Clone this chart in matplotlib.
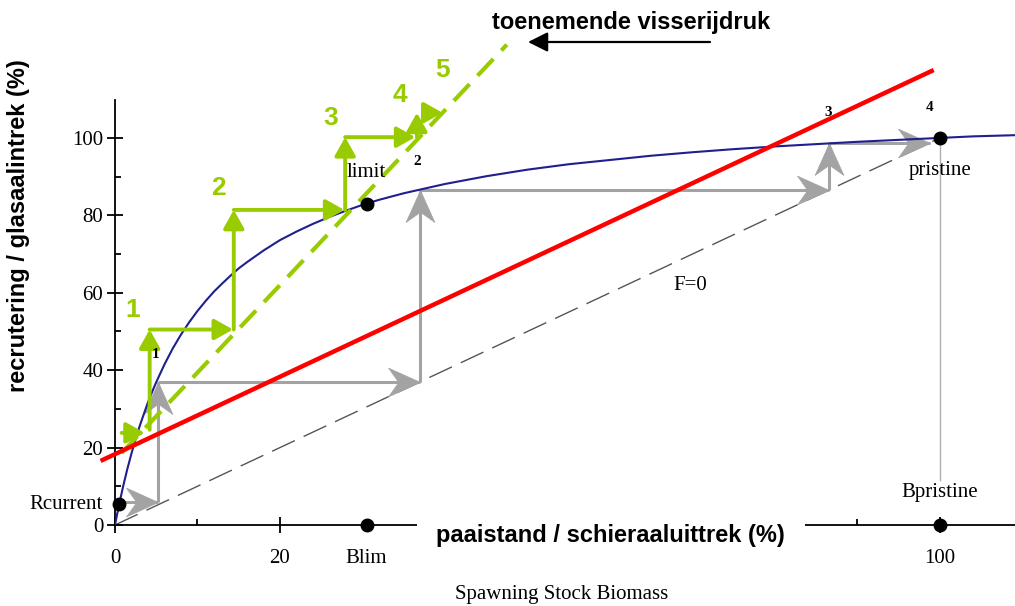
import matplotlib
matplotlib.use("Agg")
import matplotlib.pyplot as plt
from matplotlib.patches import FancyArrowPatch
from matplotlib.path import Path

# ---------------- data ----------------
curve_s = [0, 0.25, 0.5, 1, 1.5, 2, 2.5, 3, 3.5, 4, 4.5, 5, 6, 7, 8, 9, 10, 11, 12, 13, 14, 15, 16, 18,
           20, 22, 24, 26, 28, 30, 32, 35, 40, 45, 50, 55, 60, 65, 70, 75, 80, 85, 90, 95, 100, 104, 109]
curve_r = [0, 2.7, 5.3, 10.1, 14.5, 18.5, 22.2, 25.6, 28.7, 31.7, 34.4, 36.9, 41.5, 45.6, 49.2, 52.4,
           55.3, 57.9, 60.3, 62.4, 64.4, 66.3, 67.9, 70.9, 73.6, 75.8, 77.8, 79.6, 81.2, 82.7, 84.0,
           85.7, 88.1, 90.1, 91.8, 93.2, 94.3, 95.4, 96.3, 97.1, 97.8, 98.4, 99.0, 99.5, 100.0, 100.4, 100.7]

f0_s = [0, 100]
f0_r = [0, 100]

red_s = [-1.5, 99.0]
red_r = [16.8, 117.3]

green_line_s = [0.8, 47.5]
green_line_r = [18.6, 124.1]

cobweb_s = [0.5, 5.25, 5.25, 37.0, 37.0, 86.5, 86.5, 98.8]
cobweb_r = [6.0, 6.0, 37.0, 37.0, 86.6, 86.6, 98.7, 98.7]

green_s0 = [0.8, 4.2, 4.2, 14.4, 14.4, 27.9, 27.9, 36.6, 38.0]
green_r0 = [23.8, 24.6, 50.5, 50.5, 81.4, 81.4, 100.2, 100.2, 106.5]
green_s1 = [3.6, 4.2, 14.3, 14.4, 27.8, 27.9, 36.4, 36.6, 39.7]
green_r1 = [23.8, 50.5, 50.5, 81.4, 81.4, 100.2, 100.2, 106.5, 106.5]

dots_s = [0.5, 30.5, 100, 30.5, 100]
dots_r = [5.3, 83.0, 100, 0, 0]

green_labels = ["1", "2", "3", "4", "5"]
green_lab_s = [2.2, 12.5, 26.1, 34.5, 39.7]
green_lab_r = [55.6, 87.1, 105.2, 111.1, 117.6]

step_labels = ["1", "2", "3", "4"]
step_lab_s = [4.9, 36.6, 86.4, 98.8]
step_lab_r = [44.0, 93.9, 106.5, 107.8]

yticks = [0, 20, 40, 60, 80, 100]
yminor = [10, 30, 50, 70, 90]
xtick_pos = [0, 20, 30.5, 100]
xtick_lab = ["0", "20", "Blim", "100"]
xminor = [10, 90]

# ---------------- figure ----------------
SERIF = "Liberation Serif"
SANS = "Liberation Sans"
GREEN = "#99cc00"
GRAY = "#a3a3a3"

fig = plt.figure(figsize=(10.15, 6.06), dpi=100)
ax = fig.add_axes([0.1133, 0.1337, 0.8867, 0.7013])
ax.set_xlim(0, 109.1)
ax.set_ylim(0, 109.8)
for sp in ["top", "right"]:
    ax.spines[sp].set_visible(False)
ax.spines["left"].set_linewidth(1.3)
ax.spines["bottom"].set_linewidth(1.3)

ax.set_yticks(yticks)
ax.set_yticklabels([str(v) for v in yticks], family=SERIF, fontsize=15)
ax.set_yticks(yminor, minor=True)
ax.set_xticks(xtick_pos)
ax.set_xticklabels(xtick_lab, family=SERIF, fontsize=15)
ax.set_xticks(xminor, minor=True)
ax.tick_params(which="major", direction="inout", length=11, width=1.3, pad=3)
ax.tick_params(axis="x", which="major", pad=12)
ax.tick_params(which="minor", direction="in", length=4, width=1.3)
ax.xaxis.get_major_ticks()[2].tick1line.set_visible(False)

# F=0 replacement line
ax.plot(f0_s, f0_r, color="#555555", lw=1.0, dashes=(18, 7), zorder=2)

# pristine vertical
ax.plot([dots_s[2], dots_s[2]], [dots_r[2], 11.5], color="#b0b0b0", lw=1.0, zorder=2)


def notched_head(direction):
    # tip at origin, barbs swept back
    if direction == "right":
        v = [(0, 0), (-1, 0.45), (-0.68, 0), (-1, -0.45), (0, 0)]
    else:  # up
        v = [(0, 0), (0.45, -1), (0, -0.68), (-0.45, -1), (0, 0)]
    return Path(v, [Path.MOVETO, Path.LINETO, Path.LINETO, Path.LINETO, Path.CLOSEPOLY])


# gray cobweb arrows with notched heads
for i in range(len(cobweb_s) - 1):
    x0, y0, x1, y1 = cobweb_s[i], cobweb_r[i], cobweb_s[i + 1], cobweb_r[i + 1]
    ax.plot([x0, x1], [y0, y1], color=GRAY, lw=2.2, zorder=3, solid_capstyle="butt")
    d = "right" if abs(x1 - x0) > abs(y1 - y0) else "up"
    ax.plot([x1], [y1], marker=notched_head(d), ms=46, color=GRAY, mec=GRAY, mew=0.5, zorder=3)

# stock-recruitment curve
ax.plot(curve_s, curve_r, color="#1f1f8f", lw=1.5, zorder=4)

# red line
ax.plot(red_s, red_r, color="#ff0000", lw=3.2, clip_on=False, zorder=6)

# green dashed line
ax.plot(green_line_s, green_line_r, color=GREEN, lw=3, dashes=(5.5, 2.8), clip_on=False, zorder=5)

# green step arrows
for a, b, c, d in zip(green_s0, green_r0, green_s1, green_r1):
    ax.add_patch(FancyArrowPatch((a, b), (c, d),
                                 arrowstyle="-|>,head_length=0.8,head_width=0.45", mutation_scale=14,
                                 color=GREEN, lw=2.8, shrinkA=0, shrinkB=0, clip_on=False, zorder=5))

# dots
ax.plot(dots_s, dots_r, "o", color="black", ms=9, clip_on=False, zorder=8)

# green labels
for t, s, r in zip(green_labels, green_lab_s, green_lab_r):
    ax.text(s, r, t, color=GREEN, family=SANS, fontweight="bold", fontsize=19,
            ha="center", va="center", clip_on=False, zorder=7)

# small step numbers
for t, s, r in zip(step_labels, step_lab_s, step_lab_r):
    ax.text(s, r, t, color="black", family=SERIF, fontweight="bold", fontsize=11,
            ha="center", va="center", clip_on=False, zorder=7)

# serif annotations
ax.text(-1.45, 5.2, "Rcurrent", family=SERIF, fontsize=15, ha="right", va="center", clip_on=False)
ax.text(100, 8.3, "Bpristine", family=SERIF, fontsize=15, ha="center", va="center")
ax.text(100, 91.5, "pristine", family=SERIF, fontsize=15, ha="center", va="center")
ax.text(30.5, 91.0, "limit", family=SERIF, fontsize=15, ha="center", va="center", zorder=7)
ax.text(69.7, 62.0, "F=0", family=SERIF, fontsize=15, ha="center", va="center")

# x label (Dutch) over the axis line
ax.text(60.1, -2.6, "paaistand / schieraaluittrek (%)", family=SANS, fontweight="bold", fontsize=17,
        ha="center", va="center", clip_on=False, zorder=9,
        bbox=dict(facecolor="white", edgecolor="none", pad=14))

fig.text(562 / 1015, 1 - 595 / 606, "Spawning Stock Biomass", family=SERIF, fontsize=15,
         ha="center", va="center")
fig.text(19 / 1015, 1 - 226 / 606, "recrutering / glasaalintrek (%)", family=SANS, fontweight="bold",
         fontsize=17, rotation=90, ha="center", va="center")
fig.text(631 / 1015, 1 - 22 / 606, "toenemende visserijdruk", family=SANS, fontweight="bold",
         fontsize=17, ha="center", va="center")
fig.add_artist(FancyArrowPatch((710 / 1015, 1 - 42 / 606), (528 / 1015, 1 - 42 / 606),
                               transform=fig.transFigure, arrowstyle="-|>,head_length=0.8,head_width=0.4",
                               mutation_scale=15, color="black", lw=1.6, shrinkA=0, shrinkB=0))

fig.savefig("out.png", dpi=100)
